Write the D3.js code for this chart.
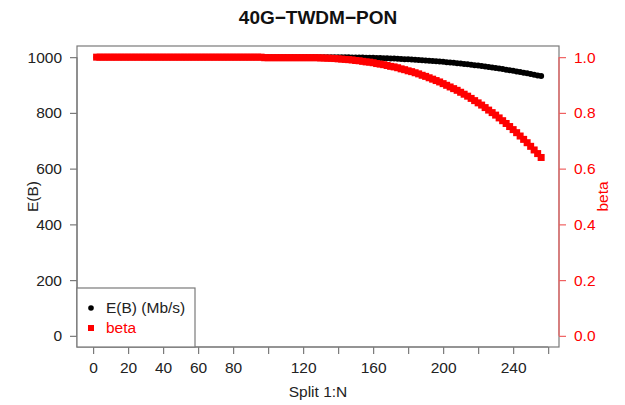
<!DOCTYPE html>
<html>
<head>
<meta charset="utf-8">
<script src="https://cdn.jsdelivr.net/npm/d3@7"></script>
<style>
  body { margin: 0; background: #fff; }
  text { font-family: "Liberation Sans", Arial, sans-serif; }
</style>
</head>
<body>
<svg id="chart" width="625" height="405"></svg>
<script>
// split ratio 1:N, N = 2, 4, ..., 256
const splits = d3.range(2, 257, 2);

// E(B) in Mb/s
const throughput = [
  1000, 1000, 1000, 1000, 1000, 1000, 1000, 1000, 1000, 1000,
  1000, 1000, 1000, 1000, 1000, 1000, 1000, 1000, 1000, 1000,
  1000, 1000, 1000, 1000, 1000, 1000, 1000, 1000, 1000, 1000,
  1000, 1000, 1000, 1000, 1000, 1000, 1000, 1000, 1000, 1000,
  1000, 1000, 1000, 1000, 1000, 1000, 1000, 1000, 1000, 1000,
  1000, 1000, 1000, 1000, 1000, 1000, 1000, 1000, 1000, 1000,
  1000, 1000,
  1000, 1000, 1000, 1000, 999.9, 999.9, 999.8, 999.7, 999.6, 999.5,
  999.3, 999.1, 998.9, 998.7, 998.4, 998.2, 997.8, 997.5, 997.1, 996.7,
  996.3, 995.8, 995.3, 994.8, 994.2, 993.6, 992.9, 992.2, 991.5, 990.7,
  989.9, 989.1, 988.2, 987.3, 986.3, 985.3, 984.2, 983.1, 982.0, 980.8,
  979.6, 978.3, 976.9, 975.6, 974.1, 972.7, 971.1, 969.6, 967.9, 966.2,
  964.5, 962.7, 960.9, 959.0, 957.1, 955.1, 953.0, 950.9, 948.7, 946.5,
  944.2, 941.9, 939.5, 937.1, 934.6, 932.0
];

// beta
const beta = [
  1.000, 1.000, 1.000, 1.000, 1.000, 1.000, 1.000, 1.000, 1.000, 1.000,
  1.000, 1.000, 1.000, 1.000, 1.000, 1.000, 1.000, 1.000, 1.000, 1.000,
  1.000, 1.000, 1.000, 1.000, 1.000, 1.000, 1.000, 1.000, 1.000, 1.000,
  1.000, 1.000, 1.000, 1.000, 1.000, 1.000, 1.000, 1.000, 1.000, 1.000,
  1.000, 1.000, 1.000, 1.000, 1.000, 1.000, 1.000, 1.000,
  0.998, 0.998, 0.998, 0.998, 0.998, 0.998, 0.998, 0.998,
  0.998, 0.998, 0.998, 0.998, 0.998, 0.998, 0.998, 0.998,
  0.997, 0.997, 0.996, 0.996, 0.995, 0.994, 0.993, 0.992, 0.991, 0.990,
  0.988, 0.987, 0.985, 0.983, 0.982, 0.980, 0.977, 0.975, 0.973, 0.970,
  0.967, 0.965, 0.962, 0.958, 0.955, 0.951, 0.948, 0.944, 0.940, 0.935,
  0.931, 0.926, 0.921, 0.916, 0.911, 0.905, 0.899, 0.893, 0.887, 0.881,
  0.874, 0.867, 0.860, 0.852, 0.844, 0.836, 0.828, 0.819, 0.810, 0.801,
  0.792, 0.782, 0.772, 0.762, 0.751, 0.740, 0.729, 0.717, 0.705, 0.693,
  0.680, 0.667, 0.654, 0.640
];

const xTicks = d3.range(0, 261, 20);
const xLabels = [0, 20, 40, 60, 80, 120, 160, 200, 240];
const leftTicks = [0, 200, 400, 600, 800, 1000];
const rightTicks = [0, 0.2, 0.4, 0.6, 0.8, 1.0];

const svg = d3.select("#chart");
const pLeft = 77, pRight = 559, pTop = 46, pBottom = 347;
const lineCol = "#7a7a7a", textCol = "#222", red = "#ff0000";
const font = "'Liberation Sans', Arial, sans-serif";
const fs = "15.5px";

const x = d3.scaleLinear().domain([-9.2, 266.2]).range([pLeft, pRight]);
const yL = d3.scaleLinear().domain([-40, 1040]).range([pBottom, pTop]);
const yR = d3.scaleLinear().domain([-0.04, 1.04]).range([pBottom, pTop]);

// box
svg.append("rect")
  .attr("x", pLeft).attr("y", pTop)
  .attr("width", pRight - pLeft).attr("height", pBottom - pTop)
  .attr("fill", "none").attr("stroke", lineCol).attr("stroke-width", 1.2);

// points
svg.append("g").selectAll("circle")
  .data(splits.map((n, i) => [n, throughput[i]]))
  .join("circle")
  .attr("cx", d => x(d[0])).attr("cy", d => yL(d[1]))
  .attr("r", 3).attr("fill", "#000");

const sq = 7;
svg.append("g").selectAll("rect")
  .data(splits.map((n, i) => [n, beta[i]]))
  .join("rect")
  .attr("x", d => x(d[0]) - sq / 2).attr("y", d => yR(d[1]) - sq / 2)
  .attr("width", sq).attr("height", sq).attr("fill", red);

// x axis
const gx = svg.append("g").attr("transform", `translate(0,${pBottom})`)
  .call(d3.axisBottom(x).tickValues(xTicks).tickSize(7).tickPadding(8)
    .tickFormat(d => xLabels.includes(d) ? d : ""));
gx.select(".domain").remove();
gx.append("line").attr("x1", x(0)).attr("x2", x(260)).attr("stroke", lineCol).attr("stroke-width", 1.2);
gx.selectAll(".tick line").attr("stroke", lineCol).attr("stroke-width", 1.2);
gx.selectAll(".tick text").attr("fill", textCol).style("font-size", fs).style("font-family", font);

// left axis
const gl = svg.append("g").attr("transform", `translate(${pLeft},0)`)
  .call(d3.axisLeft(yL).tickValues(leftTicks).tickSize(7).tickPadding(8).tickFormat(d3.format("d")));
gl.select(".domain").remove();
gl.append("line").attr("y1", yL(0)).attr("y2", yL(1000)).attr("stroke", lineCol).attr("stroke-width", 1.2);
gl.selectAll(".tick line").attr("stroke", lineCol).attr("stroke-width", 1.2);
gl.selectAll(".tick text").attr("fill", textCol).style("font-size", fs).style("font-family", font);

// right axis
const gr = svg.append("g").attr("transform", `translate(${pRight},0)`)
  .call(d3.axisRight(yR).tickValues(rightTicks).tickSize(7).tickPadding(8).tickFormat(d3.format(".1f")));
gr.select(".domain").remove();
gr.append("line").attr("y1", yR(0)).attr("y2", yR(1)).attr("stroke", "#f06060").attr("stroke-width", 1.2);
gr.selectAll(".tick line").attr("stroke", "#f06060").attr("stroke-width", 1.2);
gr.selectAll(".tick text").attr("fill", red).style("font-size", fs).style("font-family", font);

// titles
svg.append("text").attr("x", (pLeft + pRight) / 2).attr("y", 24)
  .attr("text-anchor", "middle").style("font-size", "19px").style("font-weight", "bold")
  .attr("fill", "#111").text("40G\u2212TWDM\u2212PON");
svg.append("text").attr("x", (pLeft + pRight) / 2).attr("y", 397)
  .attr("text-anchor", "middle").style("font-size", fs).attr("fill", textCol).text("Split 1:N");
svg.append("text").attr("transform", `translate(38,${(pTop + pBottom) / 2}) rotate(-90)`)
  .attr("text-anchor", "middle").style("font-size", fs).attr("fill", textCol).text("E(B)");
svg.append("text").attr("transform", `translate(608,${(pTop + pBottom) / 2}) rotate(-90)`)
  .attr("text-anchor", "middle").style("font-size", fs).attr("fill", red).text("beta");

// legend
const lg = svg.append("g");
lg.append("rect").attr("x", pLeft).attr("y", 288).attr("width", 118).attr("height", pBottom - 288)
  .attr("fill", "#fff").attr("stroke", lineCol).attr("stroke-width", 1.2);
lg.append("circle").attr("cx", 91).attr("cy", 308).attr("r", 2.8).attr("fill", "#000");
lg.append("rect").attr("x", 88).attr("y", 325).attr("width", 6).attr("height", 6).attr("fill", red);
lg.append("text").attr("x", 106).attr("y", 313).style("font-size", fs).attr("fill", textCol).text("E(B) (Mb/s)");
lg.append("text").attr("x", 106).attr("y", 333).style("font-size", fs).attr("fill", red).text("beta");
</script>
</body>
</html>
